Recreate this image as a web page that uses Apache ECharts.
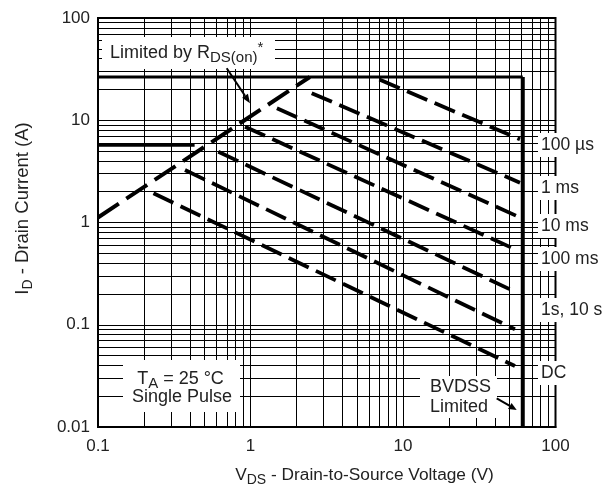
<!DOCTYPE html>
<html><head><meta charset="utf-8">
<script src="https://cdn.jsdelivr.net/npm/echarts@6/dist/echarts.min.js"></script>
<style>html,body{margin:0;padding:0;background:#fff}#c{width:603px;height:489px}</style>
</head><body><div id="c"></div>
<script>
// ---- axis ticks ----
const xTicks = [0.1, 1, 10, 100];
const xTickLabels = ['0.1', '1', '10', '100'];
const yTicks = [0.01, 0.1, 1, 10, 100];
const yTickLabels = ['0.01', '0.1', '1', '10', '100'];
const gridMultipliers = [2, 3, 4, 5, 6, 7, 8, 9];

// ---- limit lines (V, A) ----
const currentLimit = [[0.1, 26.5], [61, 26.5]];
const bvdssLimit = [[61, 26.5], [61, 0.01]];
const lowCurrentLimit = [[0.1, 5.7], [0.43, 5.7]];
const rdsLimit = [[0.1, 1.12], [2.45, 26.5]];

// ---- pulse lines (V, A) ----
const pulse100us = [[7.0, 25], [58.5, 6.51]];
const pulse1ms = [[2.52, 18.4], [58.5, 2.45]];
const pulse10ms = [[1.49, 13.1], [57.0, 1.14]];
const pulse100ms = [[0.92, 8.65], [55.7, 0.538]];
const pulse1s = [[0.615, 4.92], [54.2, 0.2106]];
const pulse10s = [[0.372, 3.26], [54.2, 0.0903]];
const pulseDC = [[0.231, 1.93], [54.2, 0.0395]];

const pulseLabels = ['100 µs', '1 ms', '10 ms', '100 ms', '1s, 10 s', 'DC'];

const FONT = '"Liberation Sans", Arial, Helvetica, sans-serif';
const TXT = '#222';

// minor/major grid values
const gridX = [];
[0.1, 1, 10].forEach((d, i) => {
  if (i > 0) gridX.push(d);
  gridMultipliers.forEach(m => gridX.push(+(d * m).toPrecision(3)));
});
const gridY = [];
[0.01, 0.1, 1, 10].forEach((d, i) => {
  if (i > 0) gridY.push(d);
  gridMultipliers.forEach(m => gridY.push(+(d * m).toPrecision(3)));
});

function tickFmt(ticks, labels) {
  return v => {
    const i = ticks.findIndex(t => Math.abs(Math.log10(t) - Math.log10(v)) < 1e-6);
    return i >= 0 ? labels[i] : '';
  };
}

function solid(name, data, w) {
  return { name, type: 'line', data, symbol: 'none', z: 3, silent: true,
    lineStyle: { color: '#000', width: w, type: 'solid', cap: 'butt' } };
}
function dashed(name, data, w, dash) {
  return { name, type: 'line', data, symbol: 'none', z: 3, silent: true,
    lineStyle: { color: '#000', width: w, type: dash, cap: 'butt' } };
}

function arrow(x1, y1, x2, y2, headLen, headW) {
  const a = Math.atan2(y2 - y1, x2 - x1);
  const bx = x2 - headLen * Math.cos(a), by = y2 - headLen * Math.sin(a);
  const px = -Math.sin(a) * headW / 2, py = Math.cos(a) * headW / 2;
  return [
    { type: 'line', z: 101, shape: { x1, y1, x2: bx, y2: by }, style: { stroke: '#000', lineWidth: 2 } },
    { type: 'polygon', z: 101, shape: { points: [[x2, y2], [bx + px, by + py], [bx - px, by - py]] }, style: { fill: '#000' } }
  ];
}

const subRich = (mainSize, subSize) => ({
  m: { fontSize: mainSize, fontFamily: FONT, fill: TXT, lineHeight: 24 },
  s: { fontSize: subSize, fontFamily: FONT, fill: TXT, verticalAlign: 'bottom', padding: [10, 0, 0, 0] },
  p: { fontSize: subSize, fontFamily: FONT, fill: TXT, verticalAlign: 'top' }
});

const rightLabelY = [145, 188, 226, 259, 310, 373];

const graphics = [
  // Limited by RDS(on)
  { type: 'rect', z: 99, shape: { x: 102, y: 37, width: 173, height: 32 }, style: { fill: '#fff' } },
  { type: 'text', z: 100, x: 110, y: 53, style: { text: '{m|Limited by R}{s|DS(on)}{p|*}', rich: subRich(18, 15), align: 'left', verticalAlign: 'middle' } },
  ...arrow(226.7, 68.3, 250, 103.3, 9, 7),
  // TA box
  { type: 'rect', z: 99, shape: { x: 123, y: 360, width: 117, height: 52 }, style: { fill: '#fff' } },
  { type: 'text', z: 100, x: 180.5, y: 379, style: { text: '{m|T}{s|A}{m| = 25 °C}', rich: subRich(18, 15), align: 'center', verticalAlign: 'middle' } },
  { type: 'text', z: 100, x: 182, y: 397, style: { text: 'Single Pulse', fontSize: 18, fontFamily: FONT, fill: TXT, align: 'center', verticalAlign: 'middle' } },
  // BVDSS box
  { type: 'rect', z: 99, shape: { x: 420, y: 376, width: 77, height: 42 }, style: { fill: '#fff' } },
  { type: 'text', z: 100, x: 430, y: 387, style: { text: 'BVDSS', fontSize: 18, fontFamily: FONT, fill: TXT, align: 'left', verticalAlign: 'middle' } },
  { type: 'text', z: 100, x: 430, y: 407, style: { text: 'Limited', fontSize: 18, fontFamily: FONT, fill: TXT, align: 'left', verticalAlign: 'middle' } },
  ...arrow(496.7, 398.3, 516.7, 410, 8, 7),
  // axis titles
  { type: 'text', z: 100, x: 364.5, y: 475, style: { text: '{m|V}{s|DS}{m| - Drain-to-Source Voltage (V)}', rich: subRich(17.3, 14), align: 'center', verticalAlign: 'middle' } },
  { type: 'text', z: 100, x: 23, y: 208.5, rotation: Math.PI / 2, style: { text: '{m|I}{s|D}{m| - Drain Current (A)}', rich: subRich(18.5, 14), align: 'center', verticalAlign: 'middle' } }
];
pulseLabels.forEach((t, i) => {
  graphics.push({ type: 'text', z: 100, x: 538, y: rightLabelY[i], style: {
    text: t, fontSize: 17.5, fontFamily: FONT, fill: TXT, align: 'left', verticalAlign: 'middle',
    backgroundColor: '#fff', padding: [3, 3, 3, 3] } });
});

const option = {
  animation: false,
  backgroundColor: '#fff',
  grid: { left: 98, right: 47.5, top: 18, bottom: 62, show: true, borderColor: '#000', borderWidth: 2, backgroundColor: '#fff' },
  xAxis: {
    type: 'log', logBase: 10, min: 0.1, max: 100,
    axisLine: { show: true, lineStyle: { color: '#000', width: 2 } },
    axisTick: { show: false }, splitLine: { show: false },
    axisLabel: { formatter: tickFmt(xTicks, xTickLabels), fontSize: 17, fontFamily: FONT, color: TXT, margin: 11 }
  },
  yAxis: {
    type: 'log', logBase: 10, min: 0.01, max: 100,
    axisLine: { show: true, lineStyle: { color: '#000', width: 2 } },
    axisTick: { show: false }, splitLine: { show: false },
    axisLabel: { formatter: tickFmt(yTicks, yTickLabels), fontSize: 17, fontFamily: FONT, color: TXT, margin: 8 }
  },
  series: [
    { name: 'grid', type: 'line', data: [], z: 1, silent: true,
      markLine: { silent: true, symbol: ['none', 'none'], label: { show: false }, animation: false,
        lineStyle: { color: '#000', width: 1, type: 'solid' },
        emphasis: { disabled: true },
        data: gridX.map(v => ({ xAxis: v })).concat(gridY.map(v => ({ yAxis: v }))) } },
    solid('Current limit', currentLimit, 3),
    solid('BVDSS limit', bvdssLimit, 4),
    solid('Low current limit', lowCurrentLimit, 3),
    dashed('RDS(on) limit', rdsLimit, 4, [25, 9]),
    dashed('100 µs', pulse100us, 3.8, [22, 8]),
    dashed('1 ms', pulse1ms, 3.8, [22, 8]),
    dashed('10 ms', pulse10ms, 3.8, [22, 8]),
    dashed('100 ms', pulse100ms, 3.8, [22, 8]),
    dashed('1 s', pulse1s, 3.8, [22, 8]),
    dashed('10 s', pulse10s, 3.8, [22, 8]),
    dashed('DC', pulseDC, 3.8, [22, 8])
  ],
  graphic: graphics
};
const chart = echarts.init(document.getElementById('c'));
chart.setOption(option);
</script>
</body></html>
